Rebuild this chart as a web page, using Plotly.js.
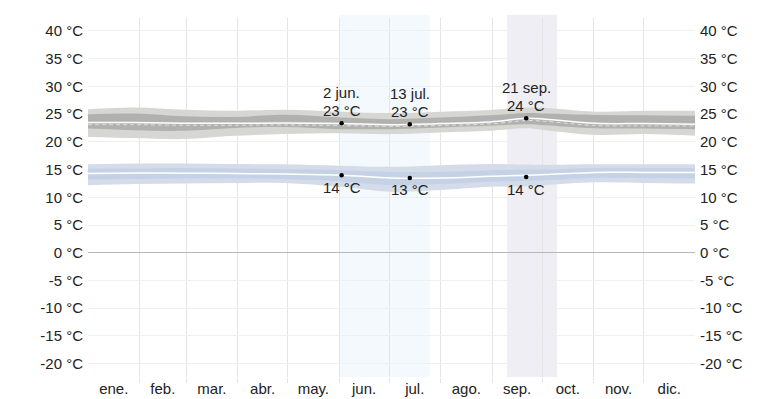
<!DOCTYPE html>
<html><head><meta charset="utf-8">
<script src="https://cdn.plot.ly/plotly-3.0.1.min.js"></script>
<style>html,body{margin:0;padding:0;background:#fff}#chart{width:772px;height:399px}</style>
</head><body><div id="chart"></div>
<script>
// Day-of-year sample positions
const days = [0, 28, 58, 88, 118, 152, 182, 212, 242, 264, 275, 305, 335, 365];
// Daily high temperature bands
const hiP90 = [25.9, 26.2, 25.8, 25.6, 25.8, 25.45, 25.2, 25.45, 25.75, 26.2, 26.1, 25.45, 25.6, 25.6];
const hiP75 = [25.0, 25.1, 24.6, 24.5, 24.9, 24.4, 24.1, 24.4, 24.8, 25.2, 25.1, 24.85, 24.8, 24.7];
const hiMean = [23.5, 23.5, 23.35, 23.35, 23.4, 23.3, 23.1, 23.3, 23.6, 24.25, 24.1, 23.35, 23.3, 23.2];
const hiFeel = [23.1, 23.1, 23.0, 23.0, 23.05, 22.95, 22.8, 22.95, 23.25, 23.85, 23.7, 22.95, 22.9, 22.85];
const hiP25 = [22.4, 22.1, 22.0, 22.5, 22.7, 22.3, 22.3, 22.6, 22.9, 23.2, 23.0, 22.45, 22.4, 22.3];
const hiP10 = [20.9, 20.7, 20.5, 21.1, 21.4, 21.55, 21.4, 21.7, 22.0, 22.45, 22.1, 21.25, 21.4, 21.1];
// Daily low temperature bands
const loP90 = [15.95, 16.1, 16.1, 16.0, 15.95, 15.7, 15.5, 15.8, 16.0, 15.9, 15.85, 15.95, 15.95, 15.95];
const loP75 = [15.2, 15.2, 15.3, 15.2, 15.1, 14.9, 14.6, 14.6, 14.9, 15.0, 15.0, 15.3, 15.3, 15.3];
const loMean = [14.3, 14.4, 14.35, 14.3, 14.2, 14.0, 13.5, 13.5, 13.8, 14.0, 14.1, 14.5, 14.5, 14.5];
const loP25 = [13.2, 13.3, 13.4, 13.4, 13.3, 12.9, 12.2, 12.4, 12.8, 13.0, 13.1, 13.5, 13.5, 13.4];
const loP10 = [12.2, 12.4, 12.5, 12.6, 12.6, 11.9, 11.0, 11.3, 11.9, 12.0, 12.2, 12.7, 12.6, 12.5];
// Month axis
const monthStarts = [31, 59, 90, 120, 151, 181, 212, 243, 273, 304, 334];
const monthMids = [15.5, 45, 74.5, 105, 135.5, 166, 196.5, 227.5, 258, 288.5, 319, 349.5];
const monthLabels = ['ene.', 'feb.', 'mar.', 'abr.', 'may.', 'jun.', 'jul.', 'ago.', 'sep.', 'oct.', 'nov.', 'dic.'];
// Y ticks
const yTicks = [-20, -15, -10, -5, 0, 5, 10, 15, 20, 25, 30, 35, 40];
const yTickText = yTicks.map(v => String(v) + ' °C');
// Highlighted points
const markDays = [152.5, 193.5, 263.5];
const markDates = ['2 jun.', '13 jul.', '21 sep.'];
const markHigh = [23.36, 23.2, 24.26];
const markHighText = ['23 °C', '23 °C', '24 °C'];
const markLow = [13.97, 13.5, 13.66];
const markLowText = ['14 °C', '13 °C', '14 °C'];
// Shaded seasons (day ranges)
const seasons = [[151, 205.6, '#f4f9fe'], [252, 282, '#efeef4']];

function band(lo, hi, color) {
  return [
    {x: days, y: lo, mode: 'lines', line: {width: 0, shape: 'spline', color: color}, hoverinfo: 'skip', showlegend: false},
    {x: days, y: hi, mode: 'lines', line: {width: 0, shape: 'spline', color: color}, fill: 'tonexty', fillcolor: color, hoverinfo: 'skip', showlegend: false}
  ];
}
const traces = [].concat(
  band(hiP10, hiP90, '#d6d6d2'),
  band(hiP25, hiP75, '#b1b1af'),
  [{x: days, y: hiFeel, mode: 'lines', line: {width: 1, color: 'rgba(235,235,235,0.8)', dash: '4px,3px', shape: 'spline'}, showlegend: false, hoverinfo: 'skip'},
   {x: days, y: hiMean, mode: 'lines', line: {width: 1.5, color: '#ffffff', shape: 'spline'}, showlegend: false, hoverinfo: 'skip'}],
  band(loP10, loP90, '#d4dcea'),
  band(loP25, loP75, '#c5d2e6'),
  [{x: days, y: loMean, mode: 'lines', line: {width: 1.5, color: '#ffffff', shape: 'spline'}, showlegend: false, hoverinfo: 'skip'},
   {x: markDays.concat(markDays), y: markHigh.concat(markLow), mode: 'markers', marker: {size: 4.5, color: '#000'}, showlegend: false, hoverinfo: 'skip'},
   {x: [0], y: [0], yaxis: 'y2', mode: 'markers', marker: {opacity: 0}, showlegend: false, hoverinfo: 'skip'}]
);

const annotations = [];
for (let i = 0; i < markDays.length; i++) {
  annotations.push({x: markDays[i], y: markHigh[i], text: markDates[i], showarrow: false, yshift: 31, font: {size: 15, color: '#222'}});
  annotations.push({x: markDays[i], y: markHigh[i], text: markHighText[i], showarrow: false, yshift: 13, font: {size: 15, color: '#222'}});
  annotations.push({x: markDays[i], y: markLow[i], text: markLowText[i], showarrow: false, yshift: -12, font: {size: 15, color: '#222'}});
}

const shapes = seasons.map(s => ({type: 'rect', xref: 'x', yref: 'paper', x0: s[0], x1: s[1], y0: 0, y1: 1.009, fillcolor: s[2], line: {width: 0}, layer: 'below'}));

const yRange = [-22.4, 42.34];
const layout = {
  width: 772, height: 399,
  margin: {l: 88, r: 77, t: 18, b: 22},
  paper_bgcolor: '#fff', plot_bgcolor: 'rgba(0,0,0,0)',
  font: {family: 'Liberation Sans, Arial, sans-serif', size: 15, color: '#222'},
  showlegend: false,
  xaxis: {
    range: [0, 365], tickmode: 'array', tickvals: monthMids, ticktext: monthLabels,
    showgrid: false, zeroline: false, showline: false, ticks: '', ticklabelstandoff: 1,
    minor: {tickmode: 'array', tickvals: monthStarts, showgrid: true, gridcolor: '#e4e4e4', gridwidth: 1, ticks: 'outside', ticklen: 5, tickcolor: '#e4e4e4'},
    fixedrange: true
  },
  yaxis: {
    range: yRange, tickmode: 'array', tickvals: yTicks, ticktext: yTickText,
    showgrid: true, gridcolor: '#efefef', zeroline: true, zerolinecolor: '#b8b8b8', zerolinewidth: 1,
    ticks: '', ticklabelstandoff: 4, showline: false, fixedrange: true
  },
  yaxis2: {
    range: yRange, overlaying: 'y', side: 'right', tickmode: 'array', tickvals: yTicks, ticktext: yTickText,
    showgrid: false, zeroline: false, ticks: '', ticklabelstandoff: 4, showline: false, fixedrange: true
  },
  shapes: shapes,
  annotations: annotations
};
Plotly.newPlot('chart', traces, layout, {displayModeBar: false, staticPlot: true});
</script></body></html>
